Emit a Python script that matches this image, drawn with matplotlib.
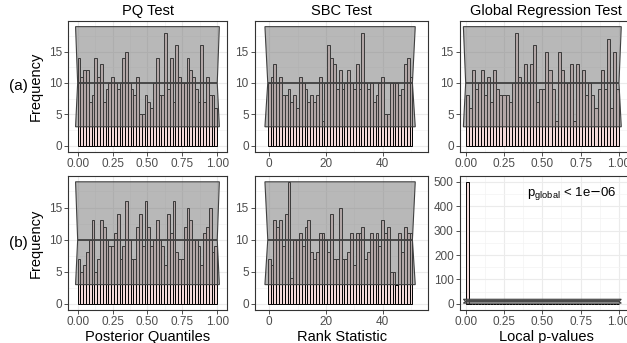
import matplotlib.pyplot as plt
import numpy as np
from matplotlib.ticker import MultipleLocator

plt.rcParams['font.family'] = ['Liberation Sans', 'DejaVu Sans']

# histogram counts (500 simulations)
pq_a = [14, 11, 12, 12, 7, 8, 14, 11, 13, 7, 9, 10, 11, 10, 9, 10, 14, 15, 10, 9,
        8, 11, 5, 5, 8, 7, 6, 10, 14, 8, 8, 18, 9, 14, 7, 16, 11, 10, 10, 14,
        12, 11, 9, 7, 16, 7, 11, 8, 8, 6]
sbc_a = [10, 11, 13, 10, 11, 8, 8, 9, 7, 8, 6, 11, 10, 9, 7, 8, 7, 8, 11, 4,
         10, 16, 14, 13, 9, 12, 9, 10, 12, 10, 9, 13, 9, 18, 10, 9, 10, 7, 8, 10,
         11, 5, 5, 10, 10, 10, 8, 9, 13, 14, 11]
gr_a = [8, 6, 12, 9, 10, 12, 8, 11, 7, 12, 9, 8, 8, 8, 7, 10, 18, 11, 10, 13,
        10, 13, 16, 7, 9, 9, 15, 12, 9, 4, 15, 12, 10, 10, 13, 4, 13, 10, 12, 8,
        10, 8, 6, 9, 12, 9, 17, 6, 15, 9]
pq_b = [7, 5, 6, 8, 10, 13, 5, 7, 13, 12, 10, 9, 9, 11, 14, 7, 9, 16, 10, 7,
        7, 12, 14, 9, 16, 12, 9, 10, 13, 10, 9, 6, 14, 11, 16, 8, 7, 7, 12, 15,
        13, 10, 10, 9, 6, 11, 12, 15, 8, 9]
sbc_b = [7, 6, 13, 12, 13, 9, 14, 19, 4, 10, 10, 11, 9, 12, 13, 8, 7, 8, 11, 11,
         10, 8, 14, 7, 7, 15, 7, 7, 8, 11, 6, 11, 11, 12, 7, 8, 11, 10, 11, 9,
         13, 11, 12, 5, 5, 3, 11, 8, 12, 11, 11]
gr_b = [500] + [0] * 49

# binomial band: lower, median, upper
ci = [3, 10, 19]

titles = ["PQ Test", "SBC Test", "Global Regression Test"]
xlabels = ["Posterior Quantiles", "Rank Statistic", "Local p-values"]
row_labels = ["(a)", "(b)"]

BAR_FILL = '#F3DADA'
W, H = 627, 343

fig = plt.figure(figsize=(W / 100, H / 100), dpi=100)


def add_ax(x0, x1, y0, y1):
    return fig.add_axes([x0 / W, 1 - y1 / H, (x1 - x0) / W, (y1 - y0) / H])


def style(ax):
    ax.set_facecolor('white')
    ax.grid(True, which='major', color='#EBEBEB', lw=0.8, zorder=0)
    ax.grid(True, which='minor', color='#F3F3F3', lw=0.5, zorder=0)
    ax.set_axisbelow(True)
    for s in ax.spines.values():
        s.set_color('#333333')
        s.set_linewidth(0.8)
    ax.tick_params(which='major', length=3, width=0.6, color='#333333',
                   labelsize=8.5, labelcolor='#4D4D4D', pad=1.5)
    ax.tick_params(which='minor', length=0)


def hist_panel(ax, counts, kind):
    counts = np.asarray(counts)
    n = len(counts)
    if kind == 'rank':
        edges = np.arange(n + 1) - 0.5
        pad = 1.0
    else:
        edges = np.linspace(0, 1, n + 1)
        pad = 0.015
    ax.bar(edges[:-1], counts, width=np.diff(edges), align='edge',
           color=BAR_FILL, edgecolor='black', linewidth=0.7, zorder=2)
    lo, mid, hi = ci
    a, b = edges[0], edges[-1]
    px = [a - pad, a, a - pad, b + pad, b, b + pad]
    py = [lo, mid, hi, hi, mid, lo]
    ax.fill(px, py, facecolor=(0.45, 0.45, 0.45, 0.5), edgecolor='#404040',
            linewidth=0.8, zorder=3)
    ax.hlines(mid, a, b, color='#404040', lw=1.3, zorder=4)
    top = max(hi, counts.max())
    ax.set_ylim(-0.05 * top, 1.05 * top)


cols = [(68.3, 227.3), (255.0, 428.3), (460.0, 632.0)]
xlims = [(-0.067, 1.072), (-5.0, 56.1), (-0.037, 1.085)]
rows = [(20.7, 151.5), (175.7, 310.0)]
data = [[pq_a, sbc_a, gr_a], [pq_b, sbc_b, gr_b]]
kinds = ['unit', 'rank', 'unit']

for r, (y0, y1) in enumerate(rows):
    for c, (x0, x1) in enumerate(cols):
        ax = add_ax(x0, x1, y0, y1)
        style(ax)
        hist_panel(ax, data[r][c], kinds[c])
        ax.set_xlim(*xlims[c])
        if kinds[c] == 'unit':
            ax.xaxis.set_major_locator(MultipleLocator(0.25))
            ax.xaxis.set_minor_locator(MultipleLocator(0.125))
            ax.xaxis.set_major_formatter(lambda v, p: f"{v:.2f}")
        else:
            ax.xaxis.set_major_locator(MultipleLocator(20))
            ax.xaxis.set_minor_locator(MultipleLocator(10))
        if r == 1 and c == 2:
            ax.yaxis.set_major_locator(MultipleLocator(100))
            ax.yaxis.set_minor_locator(MultipleLocator(50))
            ax.text(0.40, 452, r"p$_{\mathregular{global}}$ < 1e$-$06",
                    ha='left', va='center', fontsize=9.5, color='black')
        else:
            ax.yaxis.set_major_locator(MultipleLocator(5))
            ax.yaxis.set_minor_locator(MultipleLocator(2.5))
        if r == 0:
            ax.set_title(titles[c], fontsize=10.5, pad=4)
        else:
            ax.set_xlabel(xlabels[c], fontsize=10.5, labelpad=1)
        if c == 0:
            ax.set_ylabel("Frequency", fontsize=10.5, labelpad=4)
            fig.text(18 / W, 1 - ((y0 + y1) / 2) / H, row_labels[r],
                     ha='center', va='center', fontsize=11)

fig.savefig('out.png', dpi=100)
